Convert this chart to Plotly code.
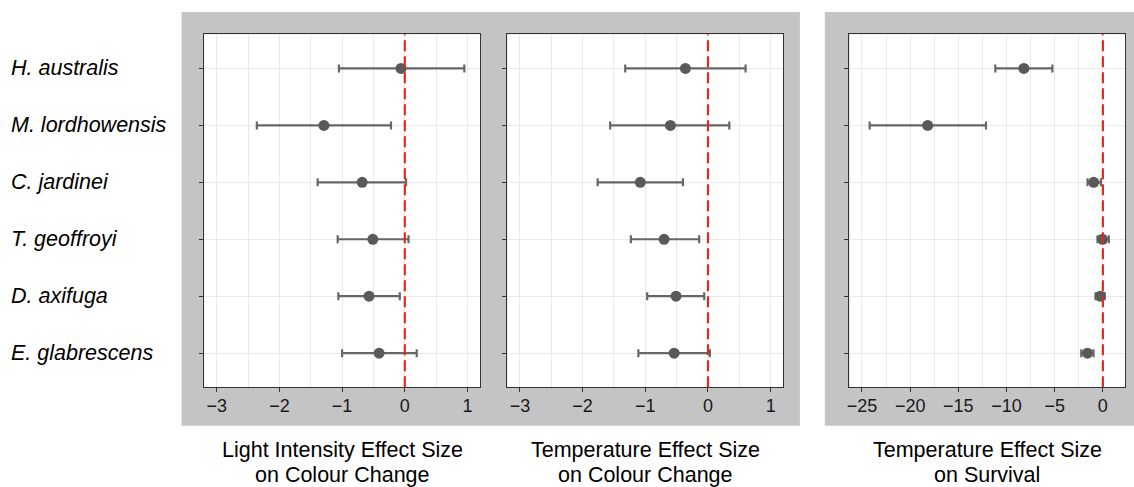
import plotly.graph_objects as go

W, H = 1134, 487

species = ["H. australis", "M. lordhowensis", "C. jardinei",
           "T. geoffroyi", "D. axifuga", "E. glabrescens"]

# Panel 1: Light intensity effect on colour change
light_est = [-0.06, -1.29, -0.68, -0.51, -0.57, -0.41]
light_lo = [-1.05, -2.36, -1.39, -1.07, -1.06, -1.00]
light_hi = [0.95, -0.22, 0.02, 0.06, -0.08, 0.19]

# Panel 2: Temperature effect on colour change
temp_est = [-0.36, -0.60, -1.08, -0.70, -0.51, -0.54]
temp_lo = [-1.32, -1.56, -1.76, -1.23, -0.97, -1.11]
temp_hi = [0.60, 0.34, -0.40, -0.14, -0.06, 0.03]

# Panel 3: Temperature effect on survival
surv_est = [-8.2, -18.18, -0.95, -0.03, -0.28, -1.60]
surv_lo = [-11.16, -24.2, -1.59, -0.56, -0.76, -2.24]
surv_hi = [-5.24, -12.13, -0.20, 0.62, 0.20, -0.97]

title_line1 = ["Light Intensity Effect Size", "Temperature Effect Size",
               "Temperature Effect Size"]
title_line2 = ["on Colour Change", "on Colour Change", "on Survival"]

panels = [(light_est, light_lo, light_hi), (temp_est, temp_lo, temp_hi),
          (surv_est, surv_lo, surv_hi)]

FONT = "Liberation Sans, Arial, Helvetica, sans-serif"
BAR_COL = "#666666"
PT_COL = "#595959"
GRID = "#E9E9E9"
FRAME = "#333333"


def px_x(p):
    return p / W


def px_y(p):
    return 1 - p / H


domains = [(px_x(201.7), px_x(478.3)), (px_x(505.7), px_x(782.3)),
           (px_x(848.7), px_x(1125.0))]
ydom = [px_y(387.3), px_y(34.3)]
xranges = [[-3.2, 1.2], [-3.2, 1.2], [-26.3, 2.3]]
dticks = [1, 1, 5]
minor_dt = [0.5, 0.5, 2.5]

fig = go.Figure()

shapes = [
    dict(type="rect", xref="paper", yref="paper", x0=px_x(179), x1=px_x(799),
         y0=px_y(425.7), y1=px_y(12), fillcolor="#C4C4C4", line_width=0,
         layer="below"),
    dict(type="rect", xref="paper", yref="paper", x0=px_x(824), x1=1.0,
         y0=px_y(425.7), y1=px_y(12), fillcolor="#C4C4C4", line_width=0,
         layer="below"),
]
annotations = []

for i, (est, lo, hi) in enumerate(panels):
    xa = "x" if i == 0 else f"x{i+1}"
    ya = "y" if i == 0 else f"y{i+1}"
    # white panel background over the grey block
    shapes.append(dict(type="rect", xref=f"{xa} domain", yref=f"{ya} domain",
                       x0=0, x1=1, y0=0, y1=1, fillcolor="white",
                       line_width=0, layer="below"))
    plus = [h - e for h, e in zip(hi, est)]
    minus = [e - l for e, l in zip(est, lo)]
    fig.add_trace(go.Scatter(
        x=est, y=species, mode="markers", xaxis=xa, yaxis=ya,
        marker=dict(color=PT_COL, size=11, line_width=0),
        error_x=dict(type="data", symmetric=False, array=plus,
                     arrayminus=minus, color=BAR_COL, thickness=2.2, width=4),
        showlegend=False, hoverinfo="skip"))
    axkey = "xaxis" if i == 0 else f"xaxis{i+1}"
    aykey = "yaxis" if i == 0 else f"yaxis{i+1}"
    fig.layout[axkey] = dict(
        domain=list(domains[i]), anchor=ya, range=xranges[i],
        tick0=0, dtick=dticks[i], showgrid=True, gridcolor=GRID, gridwidth=1.3,
        minor=dict(dtick=minor_dt[i], tick0=0, showgrid=True, gridcolor=GRID,
                   gridwidth=1.1, ticks=""),
        zeroline=False, showline=True, linecolor=FRAME, linewidth=1.2,
        mirror=True, ticks="outside", ticklen=4, tickwidth=1.2,
        tickcolor=FRAME, tickfont=dict(family=FONT, size=18, color="#1a1a1a"),
        ticklabelstandoff=-2, fixedrange=True)
    fig.layout[aykey] = dict(
        domain=ydom, anchor=xa, type="category",
        categoryorder="array", categoryarray=species, range=[5.6, -0.6],
        showgrid=True, gridcolor=GRID, gridwidth=1.3, zeroline=False,
        showline=True, linecolor=FRAME, linewidth=1.2, mirror=True,
        ticks="outside", ticklen=4, tickwidth=1.2, tickcolor=FRAME,
        showticklabels=False, fixedrange=True)
    shapes.append(dict(type="line", xref=xa, yref=f"{ya} domain", x0=0, x1=0,
                       y0=0, y1=1, line=dict(color="#E3291E", width=2.2,
                                             dash="11px,5px"),
                       layer="above"))
    for txt, ypx in ((title_line1[i], 450), (title_line2[i], 474.5)):
        annotations.append(dict(
            text=txt, xref=f"{xa} domain", x=0.5, yref="paper",
            y=px_y(ypx), xanchor="center", yanchor="middle", showarrow=False,
            borderpad=0, font=dict(family=FONT, size=21.5, color="#000000")))

for s in species:
    annotations.append(dict(
        text=f"<i>{s}</i>", xref="paper", x=px_x(6.5), yref="y", y=s,
        xanchor="left", yanchor="middle", showarrow=False,
        font=dict(family=FONT, size=21.5, color="#000000")))

fig.update_layout(
    width=W, height=H, margin=dict(l=0, r=0, t=0, b=0),
    paper_bgcolor="white", plot_bgcolor="white",
    shapes=shapes, annotations=annotations, showlegend=False)

fig.write_html("out.html", config={"displayModeBar": False})
